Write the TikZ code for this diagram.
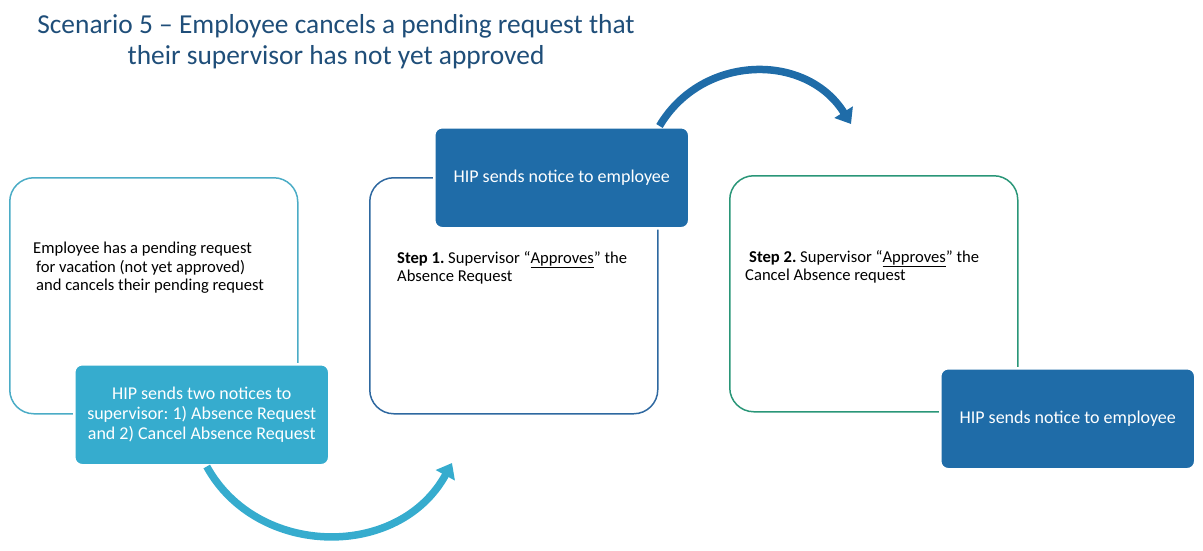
\documentclass[tikz,border=0pt]{standalone}
\usepackage{fontspec}
\setmainfont{Carlito}
\usetikzlibrary{positioning,arrows.meta}
\definecolor{titleblue}{RGB}{31,78,121}
\definecolor{aqualine}{RGB}{75,172,198}
\definecolor{aquafill}{RGB}{54,172,206}
\definecolor{navyline}{RGB}{46,104,160}
\definecolor{navyfill}{RGB}{31,108,168}
\definecolor{greenline}{RGB}{42,150,120}
\frenchspacing
\tikzset{
  stepbox/.style={draw,line width=1.5pt,rounded corners=24pt,minimum width=288pt,minimum height=236pt,anchor=north west,inner sep=0pt},
  noticebox/.style={draw=white,line width=2.5pt,rounded corners=8pt,minimum width=255pt,minimum height=101pt,anchor=north west,text=white,align=center,font=\fontsize{18}{20}\selectfont},
  boxtext/.style={anchor=north west,inner sep=0pt,align=left,font=\fontsize{16.6}{18.5}\selectfont},
  flowarrow/.style={line width=7.5pt,-{Triangle[width=21pt,length=14pt]}}
}

\begin{document}
\begin{tikzpicture}[x=1pt,y=-1pt]
\useasboundingbox (0,0) rectangle (1203,550);
\node [align=center,text=titleblue,font=\fontsize{27.4}{31}\selectfont] (title) at (336,42)
{Scenario 5 – Employee cancels a pending request that\\their supervisor has not yet approved};

% outline boxes
\node [stepbox,draw=aqualine] (start) at (9,177) {};
\node [stepbox,draw=navyline] (stepone) at (369,177) {};
\node [stepbox,draw=greenline] (steptwo) at (729,175) {};

\node [boxtext] (starttext) at ([shift={(24,65)}]start.north west)
{Employee has a pending request\\\hspace*{3pt}for vacation (not yet approved)\\\hspace*{3pt}and cancels their pending request};
\node [boxtext] (steponetext) at ([shift={(28,74)}]stepone.north west)
{\textbf{Step 1.} Supervisor “\underline{Approves}” the\\Absence Request};
\node [boxtext] (steptwotext) at ([shift={(16,75)}]steptwo.north west)
{\hspace*{4pt}\textbf{Step 2.} Supervisor “\underline{Approves}” the\\Cancel Absence request};

% notices
\node [noticebox,fill=aquafill] (twonotices) at (73,363)
{HIP sends two notices to\\supervisor: 1) Absence Request\\and 2) Cancel Absence Request};
\node [noticebox,fill=navyfill] (noticeone) at (433,126) {HIP sends notice to employee};
\node [noticebox,fill=navyfill] (noticetwo) at (939,367) {HIP sends notice to employee};

% arrows
\coordinate (arrowoneend) at (452,463);
\coordinate (arrowtwoend) at (851,124);
\draw [flowarrow,aquafill] ([xshift=5pt]twonotices.south) .. controls (257,558) and (399,560) .. (arrowoneend);
\draw [flowarrow,navyfill] ([xshift=-31pt]noticeone.north east) .. controls (702,54) and (806,52) .. (arrowtwoend);
\end{tikzpicture}
\end{document}
